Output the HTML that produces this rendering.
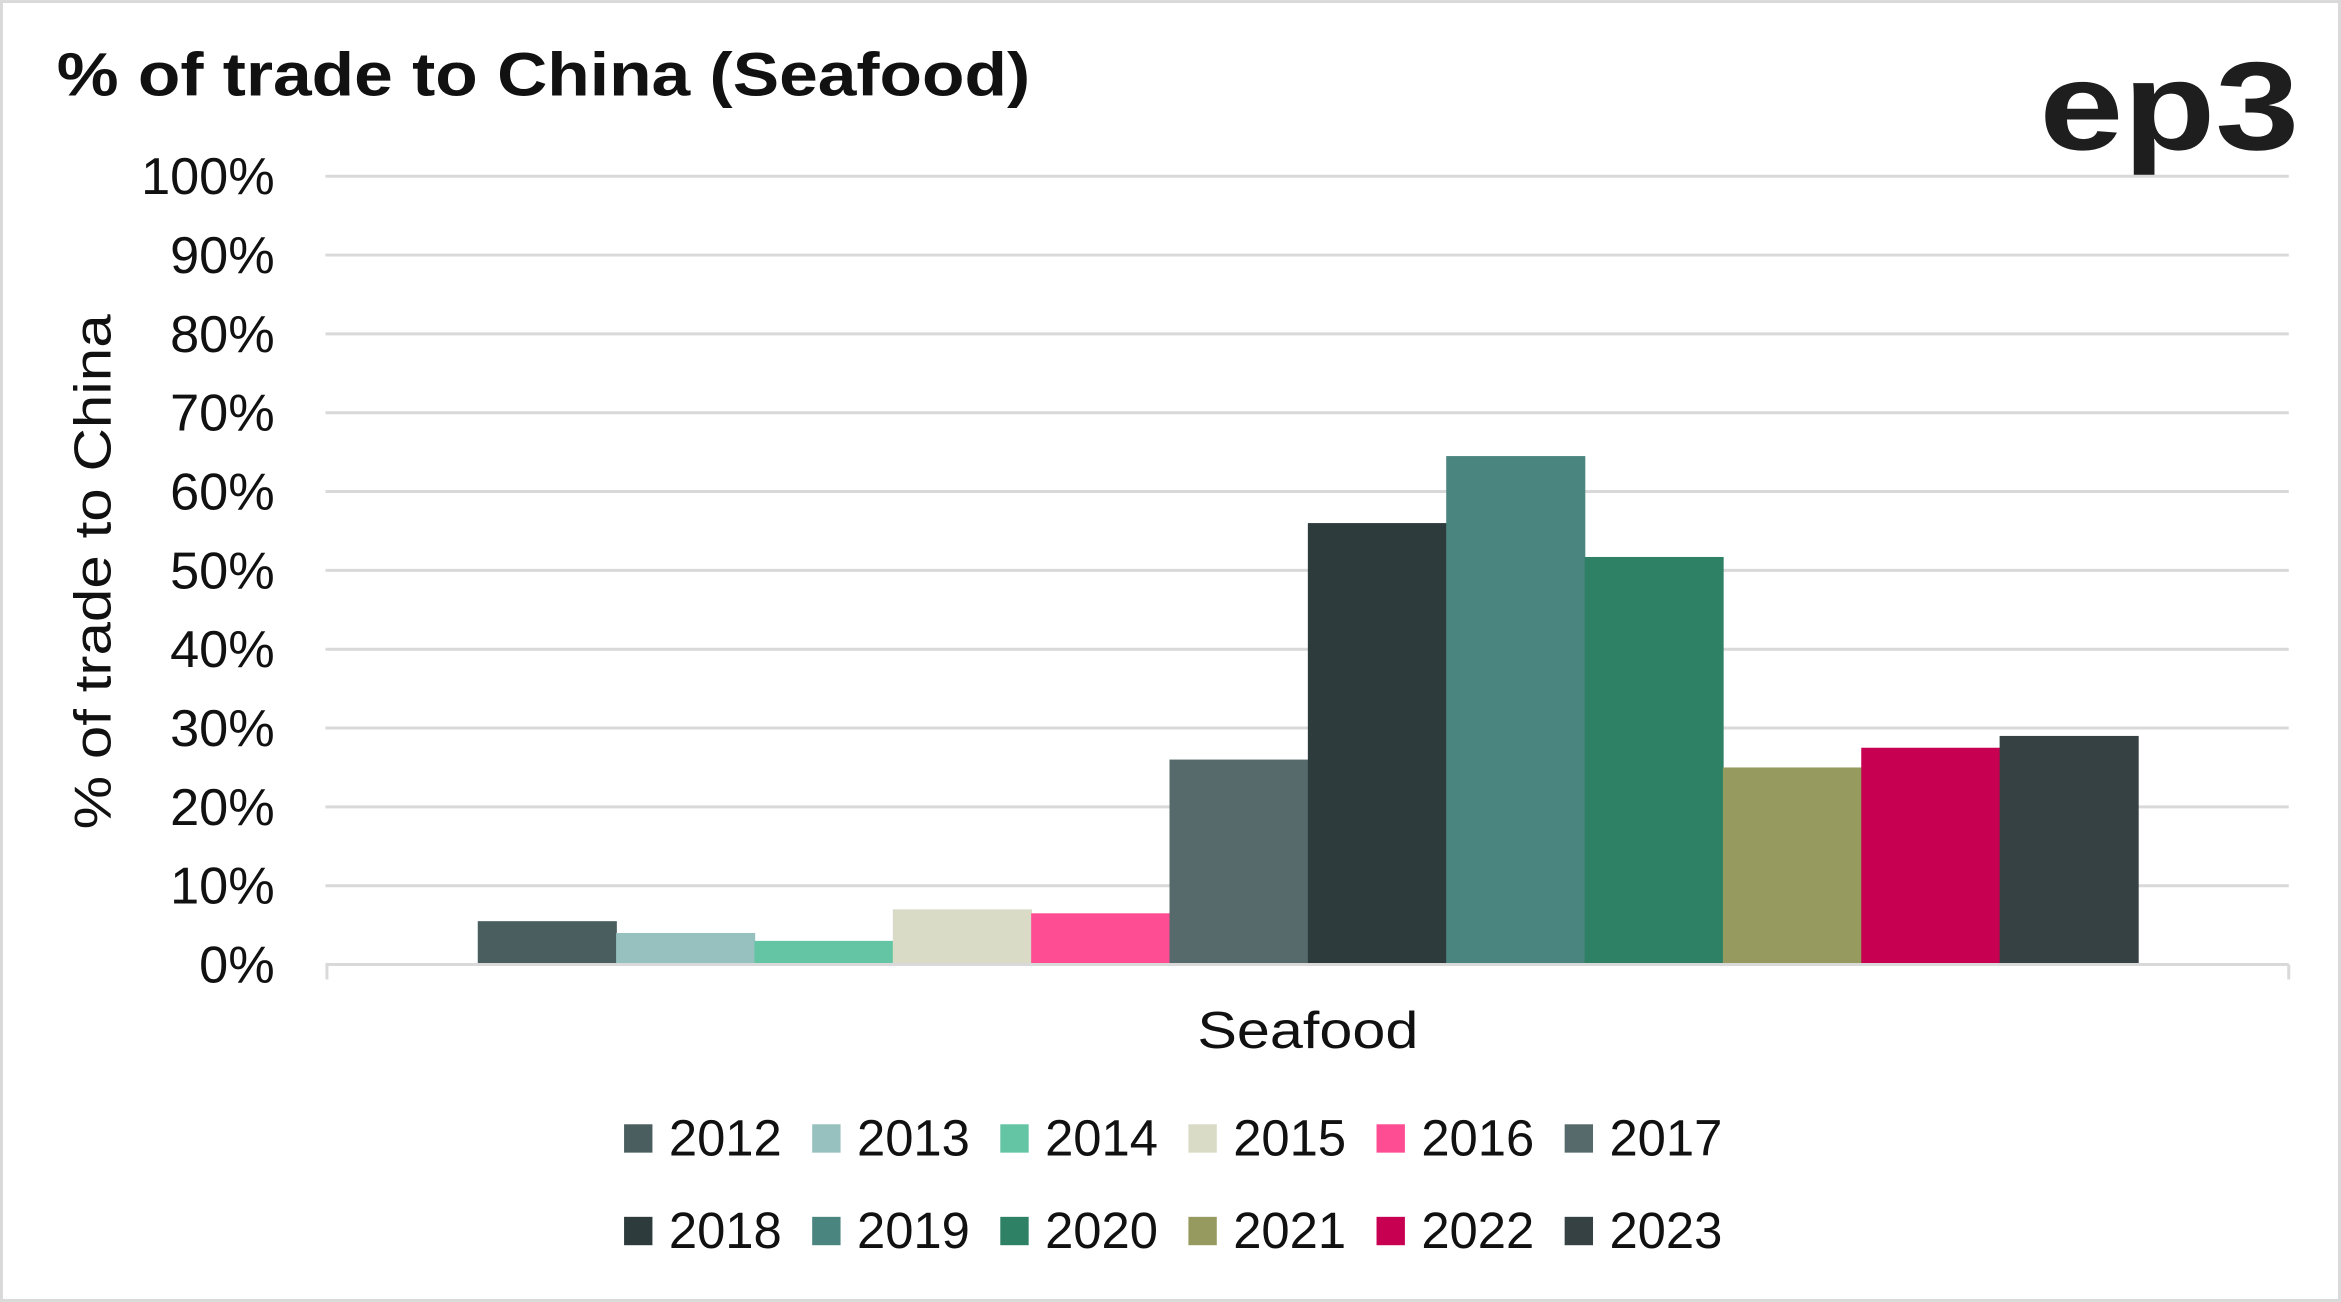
<!DOCTYPE html>
<html><head><meta charset="utf-8"><style>
html,body{margin:0;padding:0;background:#fff}
svg{display:block;font-family:"Liberation Sans",sans-serif}
</style></head><body>
<svg id="chart" width="2341" height="1302" viewBox="0 0 1568 872" xmlns="http://www.w3.org/2000/svg">
<rect x="1" y="1" width="1566" height="870" fill="#fff" stroke="#d9d9d9" stroke-width="2"/>
<text x="38" y="64" font-size="41" font-weight="bold" fill="#111" textLength="652" lengthAdjust="spacingAndGlyphs">% of trade to China (Seafood)</text>
<text x="1366" y="100" font-size="84" font-weight="bold" fill="#1e1e1e" textLength="174" lengthAdjust="spacingAndGlyphs">ep3</text>
<g id="grid"></g>
<g id="yticks"></g>
<g id="bars"></g>
<line x1="218" y1="646" x2="1533" y2="646" stroke="#d9d9d9" stroke-width="2"/>
<line x1="219" y1="646" x2="219" y2="656" stroke="#d9d9d9" stroke-width="2"/>
<line x1="1533" y1="646" x2="1533" y2="656" stroke="#d9d9d9" stroke-width="2"/>
<text x="876" y="702" font-size="35" text-anchor="middle" fill="#111" textLength="148" lengthAdjust="spacingAndGlyphs">Seafood</text>
<text transform="translate(74,383) rotate(-90)" font-size="35" text-anchor="middle" fill="#111" textLength="345" lengthAdjust="spacingAndGlyphs">% of trade to China</text>
<g id="legend"></g>
</svg>
<script>
const years = ["2012","2013","2014","2015","2016","2017","2018","2019","2020","2021","2022","2023"];
const values = [5.5, 4.0, 3.0, 7.0, 6.5, 26.0, 56.0, 64.5, 51.7, 25.0, 27.5, 29.0];
const colors = ["#4a5e60","#97c1bf","#63c5a3","#d9dbc6","#ff4d94","#576a6b","#2d3b3c","#4b8580","#2e8165","#979a5f","#c80052","#354143"];
const yTicks = [0,10,20,30,40,50,60,70,80,90,100];
const tickLabels = ["0%","10%","20%","30%","40%","50%","60%","70%","80%","90%","100%"];
const NS="http://www.w3.org/2000/svg";
const y0=646, y100=118, plotL=218, plotR=1533;
function yScale(v){return y0-(v/100)*(y0-y100);}
const barStart=320, barW=(1432-320)/years.length;
function xScale(i){return barStart+i*barW;}
function mk(tag,attrs,parent){const e=document.createElementNS(NS,tag);for(const k in attrs)e.setAttribute(k,attrs[k]);parent.appendChild(e);return e;}
const grid=document.getElementById('grid'), yt=document.getElementById('yticks');
yTicks.forEach((t,i)=>{
  if(t>0){const l=mk('line',{x1:plotL,x2:plotR,y1:yScale(t),y2:yScale(t),stroke:'#d9d9d9','stroke-width':2},grid);
  
  }
  const tx=mk('text',{x:184,y:yScale(t)+12,'font-size':35,'text-anchor':'end',fill:'#111'},yt);
  tx.textContent=tickLabels[i];
  
  
});
const bars=document.getElementById('bars');
values.forEach((v,i)=>{
  const r=mk('rect',{x:xScale(i),y:yScale(v),width:barW+0.5,height:y0-yScale(v),fill:colors[i]},bars);
  
  
});
const lg=document.getElementById('legend');
years.forEach((yr,i)=>{
  const row=Math.floor(i/6), col=i%6;
  const x=418+col*126, cy=762+row*62;
  const g=mk('g',{},lg);
  
  
  const s=mk('rect',{x:x,y:cy-9,width:19,height:19,fill:colors[i]},g);
  
  
  const t=mk('text',{x:x+30,y:cy+12,'font-size':34,fill:'#111'},g);
  t.textContent=yr;
  
  
});
</script>
</body></html>
